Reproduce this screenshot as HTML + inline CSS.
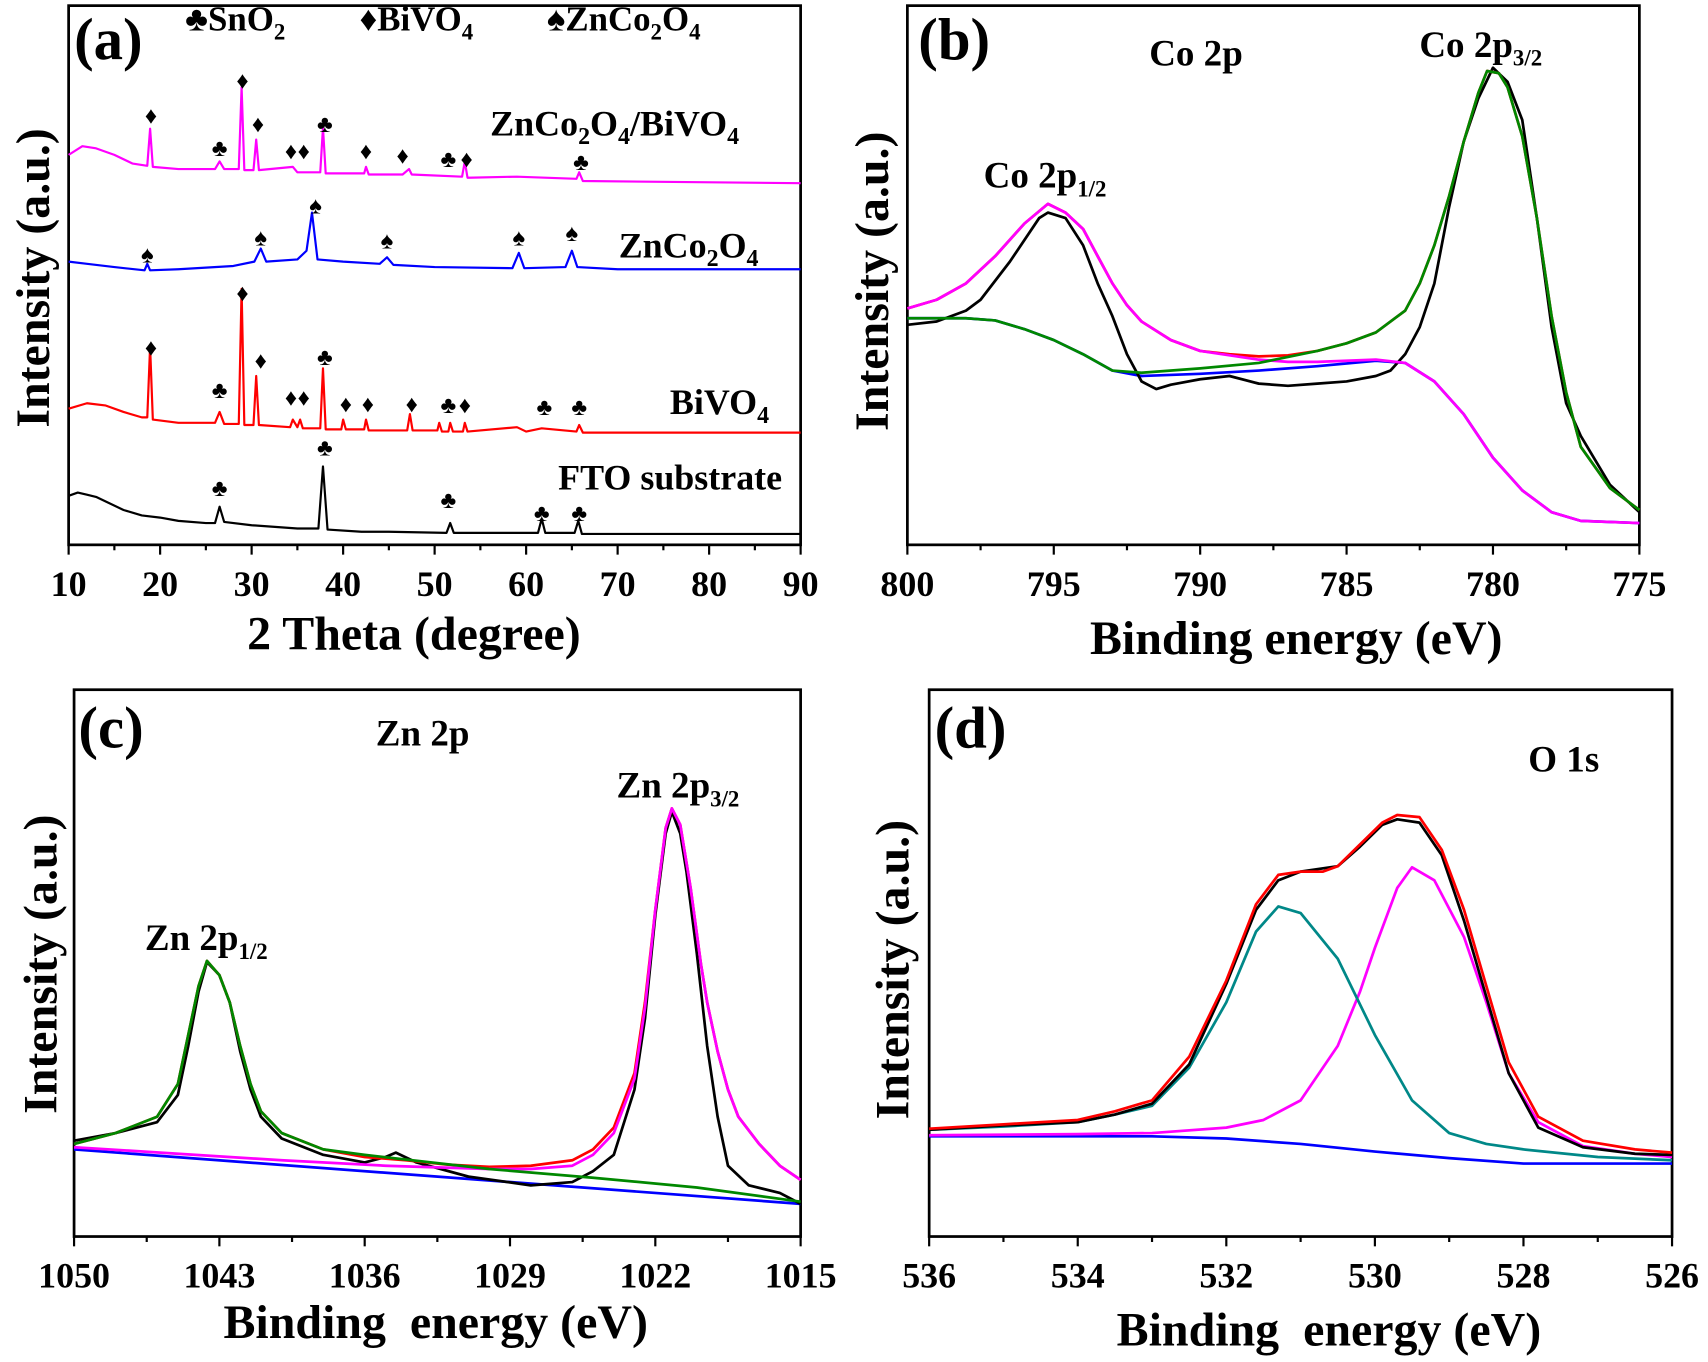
<!DOCTYPE html>
<html><head><meta charset="utf-8"><style>
html,body{margin:0;padding:0;background:#fff;}
svg{display:block;font-family:"Liberation Serif",serif;font-weight:bold;}
</style></head><body>
<svg id="fig" width="1708" height="1362" viewBox="0 0 1568 1250" xmlns="http://www.w3.org/2000/svg">
<rect width="1568" height="1250" fill="#fff"/>
<text x="68" y="54" font-size="54">(a)</text>
<text x="170" y="28" font-size="32">♣SnO<tspan font-size="21" dy="8">2</tspan></text>
<text x="330" y="28" font-size="32">♦BiVO<tspan font-size="21" dy="8">4</tspan></text>
<text x="502" y="28" font-size="32">♠ZnCo<tspan font-size="21" dy="8">2</tspan><tspan dy="-8">O</tspan><tspan font-size="21" dy="8">4</tspan></text>
<text x="450" y="124" font-size="33">ZnCo<tspan font-size="22" dy="8">2</tspan><tspan dy="-8">O</tspan><tspan font-size="22" dy="8">4</tspan><tspan dy="-8">/BiVO</tspan><tspan font-size="22" dy="8">4</tspan></text>
<text x="568" y="236" font-size="33">ZnCo<tspan font-size="22" dy="8">2</tspan><tspan dy="-8">O</tspan><tspan font-size="22" dy="8">4</tspan></text>
<text x="615" y="380" font-size="33">BiVO<tspan font-size="22" dy="8">4</tspan></text>
<text x="718" y="449" font-size="33" text-anchor="end">FTO substrate</text>
<text x="380" y="596" font-size="44" text-anchor="middle">2 Theta (degree)</text>
<text transform="translate(45,255) rotate(-90)" font-size="44" text-anchor="middle">Intensity (a.u.)</text>

<text x="843" y="54" font-size="54">(b)</text>
<text x="1055" y="60" font-size="34">Co 2p</text>
<text x="1303" y="52" font-size="34">Co 2p<tspan font-size="21" dy="8">3/2</tspan></text>
<text x="903" y="172" font-size="34">Co 2p<tspan font-size="21" dy="8">1/2</tspan></text>
<text x="1190" y="600" font-size="44" text-anchor="middle">Binding energy (eV)</text>
<text transform="translate(815,258) rotate(-90)" font-size="44" text-anchor="middle">Intensity (a.u.)</text>

<text x="72" y="686" font-size="54">(c)</text>
<text x="345" y="684" font-size="34">Zn 2p</text>
<text x="566" y="732" font-size="34">Zn 2p<tspan font-size="21" dy="8">3/2</tspan></text>
<text x="133" y="872" font-size="34">Zn 2p<tspan font-size="21" dy="8">1/2</tspan></text>
<text x="400" y="1228" font-size="44" text-anchor="middle" xml:space="preserve">Binding  energy (eV)</text>
<text transform="translate(52,885) rotate(-90)" font-size="44" text-anchor="middle">Intensity (a.u.)</text>

<text x="858" y="686" font-size="54">(d)</text>
<text x="1403" y="708" font-size="34">O 1s</text>
<text x="1220" y="1235" font-size="44" text-anchor="middle" xml:space="preserve">Binding  energy (eV)</text>
<text transform="translate(834,890) rotate(-90)" font-size="44" text-anchor="middle">Intensity (a.u.)</text>
</svg>
<script>
// ---------- data ----------
const xrdFto=[[10,45],[11,48],[12,46],[13,44],[14,40],[16,32],[18,27],[20,25],[22,22],[25,20],[26,20],[26.5,35],[27,21],[30,18],[35,15],[37.3,15],[37.8,72],[38.3,14],[42,12],[45,12],[51.3,11],[51.7,20],[52.1,11],[58,11],[61.3,11],[61.7,24],[62.1,11],[65.3,11],[65.7,22],[66.1,10],[75,10],[90,10]];
const xrdBivo4=[[10,125],[12,130],[14,128],[16,122],[18,117],[18.6,117],[18.9,182],[19.2,115],[22,112],[26,112],[26.5,122],[27,111],[28.6,111],[28.9,235],[29.2,110],[30.2,110],[30.5,155],[30.8,110],[34.2,108],[34.5,115],[35,108],[35.3,115],[35.6,107],[37.5,107],[37.8,162],[38.1,106],[39.8,106],[40,115],[40.3,106],[42.3,106],[42.5,115],[42.8,105],[47,105],[47.3,120],[47.6,105],[50.3,105],[50.5,112],[50.8,104],[51.5,104],[51.7,112],[52,104],[53.1,104],[53.3,112],[53.6,104],[59,108],[60,104],[61.7,107],[65.5,104],[65.8,110],[66.2,103],[90,103]];
const xrdZnco=[[10,260],[12,258],[15,255],[18.3,252],[18.6,258],[18.9,252],[22,253],[28,256],[30.3,260],[31,272],[31.6,260],[35,262],[36,270],[36.6,305],[37.2,262],[40,260],[44,258],[44.8,264],[45.5,257],[50,255],[58.5,254],[59.2,268],[59.8,254],[64.3,255],[65,270],[65.6,255],[70,253],[90,253]];
const xrdComposite=[[10,358],[11.5,366],[13,364],[15,358],[17,350],[18.6,348],[18.9,382],[19.2,347],[22,345],[26,345],[26.5,352],[27,345],[28.6,345],[28.9,420],[29.2,344],[30.2,344],[30.5,372],[30.8,344],[34.5,347],[35,342],[37.5,342],[37.8,383],[38.1,341],[42.3,341],[42.5,347],[42.8,340],[46.5,340],[47.2,345],[47.5,340],[53,338],[53.3,352],[53.6,337],[59,338],[65.5,336],[65.8,342],[66.2,334],[90,332]];
const markerPos=[19,26.5,29,30.7,34.3,35.7,38,42.5,46.5,51.5,53.5,66, 18.6,31,37,44.8,59.2,65, 19,26.5,29,31,38,34.3,35.7,40.3,42.7,47.5,51.5,53.3,62,65.8, 26.5,38,51.5,61.7,65.8];
const markerLevel=[395,365,427,387,362,362,387,362,358,355,355,352, 267,283,312,280,283,287, 182,143,232,170,173,136,136,130,130,130,129,129,127,127, 53,90,42,30,30];
const markerSym="♦♣♦♦♦♦♣♦♦♣♦♣♠♠♠♠♠♠♦♣♦♦♣♦♦♦♦♦♣♦♣♣♣♣♣♣♣";
const xTicksA=[10,20,30,40,50,60,70,80,90];

const coRaw=[[800,202],[799,205],[798,215],[797.5,225],[796.5,260],[795.5,300],[795.2,305],[794.6,300],[794,275],[793.5,240],[793,210],[792.5,175],[792,150],[791.5,143],[791,147],[790,152],[789,155],[788,148],[787,146],[786,148],[785,150],[784,155],[783.5,160],[783,175],[782.5,200],[782,240],[781.5,310],[781,370],[780.5,410],[780,438],[779.5,425],[779,390],[778.5,300],[778,200],[777.5,130],[777,100],[776,55],[775,30]];
const coEnv=[[800,217],[799,225],[798,240],[797,265],[796,295],[795.2,313],[794.6,305],[794,290],[793.5,265],[793,240],[792.5,220],[792,205],[791,188],[790,178],[789,175],[788,173],[787,174],[786,178],[785,185],[784,195],[783,215],[782.5,240],[782,275],[781.5,320],[781,370],[780.5,415],[780.2,435],[779.8,433],[779.5,420],[779,375],[778.5,300],[778,210],[777.5,140],[777,90],[776,52],[775,32]];
const coP12=[[800,217],[799,225],[798,240],[797,265],[796,295],[795.2,313],[794.6,305],[794,290],[793.5,265],[793,240],[792.5,220],[792,205],[791,188],[790,178],[789,174],[788,170],[787,168],[786,168],[785,169],[784,170],[783,167],[782,150],[781,120],[780,80],[779,50],[778,30],[777,22],[775,20]];
const coP32=[[800,208],[798,208],[797,206],[796,198],[795,188],[794,175],[793,160],[792,158],[790,162],[788,167],[786,178],[785,185],[784,195],[783,215],[782.5,240],[782,275],[781.5,320],[781,370],[780.5,415],[780.2,435],[779.8,433],[779.5,420],[779,375],[778.5,300],[778,210],[777.5,140],[777,90],[776,52],[775,32]];
const coBg=[[800,208],[798,208],[797,206],[796,198],[795,188],[794,175],[793,160],[792,155],[790,157],[788,160],[786,164],[784,169],[783,167],[782,150],[781,120],[780,80],[779,50],[778,30],[777,22],[775,20]];
const xTicksB=[800,795,790,785,780,775];

const znRaw=[[1050,88],[1048,95],[1046,105],[1045,130],[1044.5,175],[1044,225],[1043.6,252],[1043,240],[1042.5,215],[1042,170],[1041.5,135],[1041,110],[1040,90],[1038,75],[1036,68],[1035,73],[1034.5,77],[1033.5,68],[1031,55],[1028,47],[1026,50],[1025,60],[1024,75],[1023,135],[1022.5,200],[1022,295],[1021.5,370],[1021.2,390],[1020.8,370],[1020.5,335],[1020,260],[1019.5,175],[1019,110],[1018.5,65],[1017.5,47],[1016,40],[1015,30]];
const znEnv=[[1050,85],[1048,95],[1046,110],[1045,140],[1044.5,185],[1044,230],[1043.6,253],[1043,240],[1042.5,215],[1042,175],[1041.5,140],[1041,115],[1040,95],[1038,80],[1036,73],[1034,70],[1032,66],[1030,64],[1028,65],[1026,70],[1025,80],[1024,100],[1023,150],[1022.5,215],[1022,300],[1021.5,375],[1021.2,393],[1020.8,378],[1020.3,320],[1019.8,250],[1019.5,215],[1019,170],[1018.5,135],[1018,110],[1017,85],[1016,65],[1015,52]];
const znP32=[[1050,82],[1045,76],[1040,70],[1035,65],[1030,62],[1028,62],[1026,65],[1025,75],[1024,95],[1023,145],[1022.5,210],[1022,300],[1021.5,375],[1021.2,393],[1020.8,378],[1020.3,320],[1019.8,250],[1019.5,215],[1019,170],[1018.5,135],[1018,110],[1017,85],[1016,65],[1015,52]];
const znP12=[[1050,85],[1048,95],[1046,110],[1045,140],[1044.5,185],[1044,230],[1043.6,253],[1043,240],[1042.5,215],[1042,175],[1041.5,140],[1041,115],[1040,95],[1038,80],[1036,75],[1030,62],[1025,54],[1020,45],[1015,32]];
const znBg=[[1050,80],[1015,30]];
const xTicksC=[1050,1043,1036,1029,1022,1015];

const oRaw=[[536,98],[535,102],[534,105],[533.5,112],[533,122],[532.5,158],[532,232],[531.6,300],[531.3,327],[531,335],[530.5,340],[530.2,358],[529.9,378],[529.7,383],[529.4,380],[529.1,350],[528.8,290],[528.5,220],[528.2,150],[527.8,100],[527.2,82],[526.5,76],[526,75]];
const oEnv=[[536,99],[535,103],[534,107],[533.5,115],[533,125],[532.5,165],[532,235],[531.6,305],[531.3,332],[531,335],[530.7,335],[530.5,340],[530.2,360],[529.9,380],[529.7,387],[529.4,385],[529.1,355],[528.8,300],[528.5,230],[528.2,160],[527.8,110],[527.2,88],[526.5,80],[526,77]];
const oC1=[[536,98],[535,101],[534,105],[533.5,112],[533,120],[532.5,155],[532,215],[531.6,280],[531.3,303],[531,297],[530.5,255],[530,185],[529.5,125],[529,95],[528.5,85],[528,80],[527,73],[526,70]];
const oC2=[[536,93],[534,94],[533,95],[532,100],[531.5,107],[531,125],[530.5,175],[530.2,225],[530,265],[529.7,320],[529.5,339],[529.2,327],[528.8,275],[528.5,215],[528.2,150],[527.8,105],[527.2,83],[526.5,76],[526,73]];
const oBg=[[536,92],[533,92],[532,90],[531,85],[530,78],[529,72],[528,67],[527,67],[526,67]];
const xTicksD=[536,534,532,530,528,526];

// ---------- drawing ----------
const NS="http://www.w3.org/2000/svg";
const svg=document.getElementById("fig");
function mk(tag,attrs){const e=document.createElementNS(NS,tag);for(const k in attrs)e.setAttribute(k,attrs[k]);svg.appendChild(e);return e;}
function panel(p){
  const sx=v=>p.L+(v-p.x0)/(p.x1-p.x0)*(p.R-p.L);
  const sy=v=>p.B-v;
  const fr=mk("rect",{x:p.L,y:p.T,width:p.R-p.L,height:p.B-p.T,fill:"none",stroke:"#000","stroke-width":2.5});
  
  
  const step=p.ticks[1]-p.ticks[0];
  p.ticks.forEach((t,i)=>{
    const x=sx(t);
    const tk=mk("line",{x1:x,x2:x,y1:p.B,y2:p.B+9,stroke:"#000","stroke-width":2});
    
    
    const lb=mk("text",{x:x,y:p.B+47,"font-size":33,"text-anchor":"middle"});
    lb.textContent=t;
    
    
    if(i<p.ticks.length-1){
      const xm=sx(t+step/2);
      const mt=mk("line",{x1:xm,x2:xm,y1:p.B,y2:p.B+5,stroke:"#000","stroke-width":2});
      
      
    }
  });
  p.series.forEach(s=>{
    const pts=s.d.map(q=>sx(q[0]).toFixed(1)+","+sy(q[1]).toFixed(1)).join(" ");
    const pl=mk("polyline",{points:pts,fill:"none",stroke:s.c,"stroke-width":s.w||2.5,"stroke-linejoin":"round"});
    
    
  });
  return {sx,sy};
}
const A=panel({id:"panel-a",L:63,R:735,T:5,B:500,x0:10,x1:90,ticks:xTicksA,series:[
  {n:"fto-curve",c:"#000",d:xrdFto,w:2},{n:"bivo4-curve",c:"#f00",d:xrdBivo4,w:2},
  {n:"znco2o4-curve",c:"#00f",d:xrdZnco,w:2},{n:"znco2o4-bivo4-curve",c:"#f0f",d:xrdComposite,w:2}]});
markerPos.forEach((m,i)=>{
  const t=mk("text",{x:A.sx(m),y:A.sy(markerLevel[i])+8,"font-size":22,"text-anchor":"middle"});
  t.textContent=markerSym[i];
  
  
});
panel({id:"panel-b",L:833,R:1505,T:5,B:500,x0:800,x1:775,ticks:xTicksB,series:[
  {n:"co-background",c:"#00f",d:coBg},
  {n:"co-raw",c:"#000",d:coRaw},{n:"co-envelope",c:"#f00",d:coEnv},{n:"co-2p12-fit",c:"#f0f",d:coP12},{n:"co-2p32-fit",c:"#080",d:coP32}]});
panel({id:"panel-c",L:68,R:735,T:633,B:1135,x0:1050,x1:1015,ticks:xTicksC,series:[
  {n:"zn-background",c:"#00f",d:znBg},{n:"zn-raw",c:"#000",d:znRaw},{n:"zn-envelope",c:"#f00",d:znEnv},
  {n:"zn-2p32-fit",c:"#f0f",d:znP32},{n:"zn-2p12-fit",c:"#080",d:znP12}]});
panel({id:"panel-d",L:853,R:1535,T:633,B:1135,x0:536,x1:526,ticks:xTicksD,series:[
  {n:"o-background",c:"#00f",d:oBg},{n:"o-lattice-fit",c:"#f0f",d:oC2},{n:"o-defect-fit",c:"#088",d:oC1},
  {n:"o-raw",c:"#000",d:oRaw},{n:"o-envelope",c:"#f00",d:oEnv}]});
</script>
</body></html>
